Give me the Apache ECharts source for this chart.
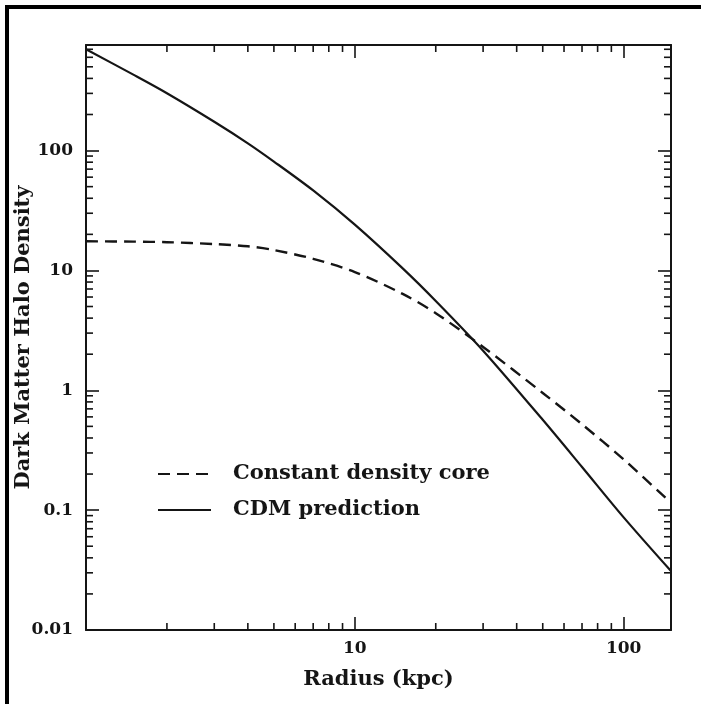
<!DOCTYPE html>
<html>
<head>
<meta charset="utf-8">
<script src="https://cdn.jsdelivr.net/npm/echarts@6/dist/echarts.min.js"></script>
<style>
  html, body { margin: 0; padding: 0; background: #fff; }
  #chart { width: 701px; height: 704px; }
  #frame { position: absolute; left: 5px; top: 5px; width: 720px; height: 720px;
           border-left: 4px solid #000; border-top: 4px solid #000; pointer-events: none; }
</style>
</head>
<body>
<div id="chart"></div>
<div id="frame"></div>
<script>
// radius in kpc, densities
const radius      = [1, 1.5, 2, 3, 4, 5, 7, 10, 15, 20, 30, 50, 70, 100, 150];
const cdmDensity  = [700, 430, 301, 174, 115, 81, 46.5, 24.1, 10.5, 5.56, 2.14, 0.567, 0.229, 0.087, 0.031];
const coreDensity = [17.5, 17.4, 17.2, 16.6, 15.9, 14.8, 12.5, 9.7, 6.4, 4.4, 2.3, 0.95, 0.52, 0.265, 0.115];

const xMin = 1, xMax = 150;
const yMin = 0.01, yMax = 760;
const minorX = [2, 3, 4, 5, 6, 7, 8, 9, 20, 30, 40, 50, 60, 70, 80, 90];
const minorY = [0.02, 0.03, 0.04, 0.05, 0.06, 0.07, 0.08, 0.09,
                0.2, 0.3, 0.4, 0.5, 0.6, 0.7, 0.8, 0.9,
                2, 3, 4, 5, 6, 7, 8, 9,
                20, 30, 40, 50, 60, 70, 80, 90,
                200, 300, 400, 500, 600, 700];

const ink = '#151515';
const font = 'DejaVu Serif';

const chart = echarts.init(document.getElementById('chart'), null, { renderer: 'canvas' });

const pairs = (ys) => radius.map((r, i) => [r, ys[i]]);
const fmt = (v) => String(+(+v).toPrecision(6));

// short inward ticks on both opposite edges
const tickLine = (a, b) => ({
  type: 'line',
  shape: { x1: a[0], y1: a[1], x2: b[0], y2: b[1] },
  style: { stroke: ink, lineWidth: 1.6 },
});

const minorLen = 7;

const option = {
  backgroundColor: '#fff',
  animation: false,
  grid: { left: 86, right: 30, top: 45, bottom: 74, outerBoundsMode: 'none', containLabel: false },
  legend: {
    data: ['Constant density core', 'CDM prediction'],
    orient: 'vertical',
    left: 157,
    top: 462,
    padding: 0,
    itemWidth: 53,
    itemHeight: 14,
    itemGap: 12,
    itemStyle: { opacity: 0 },
    textStyle: { fontFamily: font, fontWeight: 'bold', fontSize: 21, color: ink, lineHeight: 24, padding: [0, 0, 0, 17] },
    selectedMode: false,
  },
  xAxis: [
    {
      type: 'log', logBase: 10, min: xMin, max: xMax, position: 'bottom',
      name: 'Radius (kpc)', nameLocation: 'middle', nameGap: 39, nameMoveOverlap: false,
      nameTextStyle: { fontFamily: font, fontWeight: 'bold', fontSize: 21, color: ink },
      axisLine: { lineStyle: { color: ink, width: 2 } },
      axisTick: { inside: true, length: 13, lineStyle: { color: ink, width: 1.6 } },
      axisLabel: { fontFamily: font, fontWeight: 'bold', fontSize: 17, color: ink, margin: 10,
                   showMinLabel: false, showMaxLabel: false, formatter: fmt },
      splitLine: { show: false },
    },
    {
      type: 'log', logBase: 10, min: xMin, max: xMax, position: 'top',
      axisLine: { lineStyle: { color: ink, width: 2 } },
      axisTick: { inside: true, length: 13, lineStyle: { color: ink, width: 1.6 } },
      axisLabel: { show: false },
      splitLine: { show: false },
    },
  ],
  yAxis: [
    {
      type: 'log', logBase: 10, min: yMin, max: yMax, position: 'left',
      name: 'Dark Matter Halo Density', nameLocation: 'middle', nameGap: 52, nameMoveOverlap: false,
      nameTextStyle: { fontFamily: font, fontWeight: 'bold', fontSize: 21, color: ink },
      axisLine: { lineStyle: { color: ink, width: 2 } },
      axisTick: { inside: true, length: 13, lineStyle: { color: ink, width: 1.6 } },
      axisLabel: { fontFamily: font, fontWeight: 'bold', fontSize: 17, color: ink, margin: 13,
                   showMaxLabel: false, formatter: fmt },
      splitLine: { show: false },
    },
    {
      type: 'log', logBase: 10, min: yMin, max: yMax, position: 'right',
      axisLine: { lineStyle: { color: ink, width: 2 } },
      axisTick: { inside: true, length: 13, lineStyle: { color: ink, width: 1.6 } },
      axisLabel: { show: false },
      splitLine: { show: false },
    },
  ],
  series: [
    {
      name: 'Constant density core',
      type: 'line',
      data: pairs(coreDensity),
      smooth: 0.3,
      symbol: 'none',
      lineStyle: { color: ink, width: 2.4, type: [12, 7] },
      itemStyle: { color: ink },
      z: 3,
    },
    {
      name: 'CDM prediction',
      type: 'line',
      data: pairs(cdmDensity),
      smooth: 0.3,
      symbol: 'none',
      lineStyle: { color: ink, width: 2.2 },
      itemStyle: { color: ink },
      z: 3,
    },
    {
      name: 'minorX',
      type: 'custom',
      silent: true,
      clip: false,
      data: minorX.map(v => [v, yMin]),
      renderItem: (params, api) => {
        const x = api.value(0);
        const b = api.coord([x, yMin]);
        const t = api.coord([x, yMax]);
        return { type: 'group', children: [
          tickLine(b, [b[0], b[1] - minorLen]),
          tickLine(t, [t[0], t[1] + minorLen]),
        ] };
      },
      z: 4,
    },
    {
      name: 'minorY',
      type: 'custom',
      silent: true,
      clip: false,
      data: minorY.map(v => [xMin, v]),
      renderItem: (params, api) => {
        const y = api.value(1);
        const l = api.coord([xMin, y]);
        const r = api.coord([xMax, y]);
        return { type: 'group', children: [
          tickLine(l, [l[0] + minorLen, l[1]]),
          tickLine(r, [r[0] - minorLen, r[1]]),
        ] };
      },
      z: 4,
    },
  ],
};

chart.setOption(option);
</script>
</body>
</html>
